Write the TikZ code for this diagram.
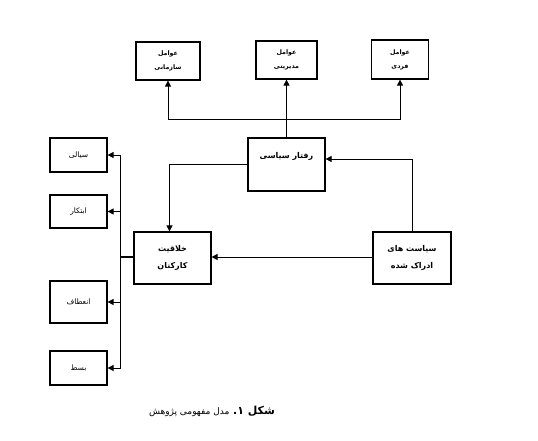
\documentclass[tikz,border=0pt]{standalone}
\usepackage{fontspec}
\newfontfamily\arabicfont[Script=Arabic]{DejaVu Sans}
\TeXXeTstate=1
\usetikzlibrary{arrows.meta, positioning, calc}
\newcommand{\rtltext}[1]{\beginR #1\endR}

\begin{document}
\begin{tikzpicture}[
    x=1pt, y=-1pt,
    every node/.style={font=\arabicfont},
    fbox/.style={draw, line width=1.2pt, align=center, inner sep=0pt},
    topbox/.style={fbox, font=\arabicfont\bfseries\fontsize{6.3}{14}\selectfont},
    midbox/.style={fbox, font=\arabicfont\bfseries\fontsize{8}{17}\selectfont, minimum width=77pt, minimum height=52pt},
    leftbox/.style={fbox, font=\arabicfont\fontsize{7.5}{9}\selectfont, minimum width=57pt},
    arr/.style={-{Triangle[length=6pt, width=6pt]}, line width=0.8pt}
]
    \useasboundingbox (0,0) rectangle (538,441);

    % top row
    \node[topbox, minimum width=64pt, minimum height=38pt] (orgf) at (168, 61) {\rtltext{عوامل}\\ \rtltext{سازمانی}};
    \node[topbox, minimum width=61pt, minimum height=38pt] (mgmf) at (286.5, 60) {\rtltext{عوامل}\\ \rtltext{مدیریتی}};
    \node[topbox, minimum width=57pt, minimum height=39pt] (indf) at (400, 59.5) {\rtltext{عوامل}\\ \rtltext{فردی}};

    % middle
    \node[fbox, font=\arabicfont\bfseries\fontsize{8}{17}\selectfont, minimum width=77pt, text height=20pt, text depth=33pt] (pol) at (286.5, 164.5) {\rtltext{رفتار سیاسی}};
    \node[midbox] (crea) at (172.5, 258) {\rtltext{خلاقیت}\\ \rtltext{کارکنان}};
    \node[midbox, minimum width=78pt] (perc) at (412, 258) {\rtltext{سیاست های}\\ \rtltext{ادراک شده}};

    % left column
    \node[leftbox, minimum height=34pt] (flu) at (78.5, 155) {\rtltext{سیالی}};
    \node[leftbox, minimum height=33pt] (ini) at (78.5, 211.5) {\rtltext{ابتکار}};
    \node[leftbox, minimum height=42pt] (flex) at (78.5, 302) {\rtltext{انعطاف}};
    \node[leftbox, minimum height=34pt] (elab) at (78.5, 368) {\rtltext{بسط}};

    % connectors
    \coordinate (jn) at (pol.north |- 0,119);
    \draw[arr] (pol.north) -- (mgmf.south);
    \draw[arr] (jn) -| (orgf.south);
    \draw[arr] (jn) -| (indf.south);
    \draw[arr] (pol.west) -| ([xshift=-3pt]crea.north);
    \draw[arr] (perc.north) |- ([yshift=5.5pt]pol.east);
    \draw[arr] (perc.west |- 0,257) -- (crea.east |- 0,257);

    \coordinate (bus) at (120, 257);
    \draw[line width=2pt] (crea.west |- bus) -- (bus);
    \foreach \t in {flu, ini, flex, elab}
        \draw[arr] (bus) |- (\t.east);

    % caption
    \node[font=\arabicfont\fontsize{9}{11}\selectfont] (cap) at (212, 411) {\rtltext{{\bfseries\fontsize{11}{13}\selectfont شکل ۱.} مدل مفهومی پژوهش}};
\end{tikzpicture}
\end{document}
